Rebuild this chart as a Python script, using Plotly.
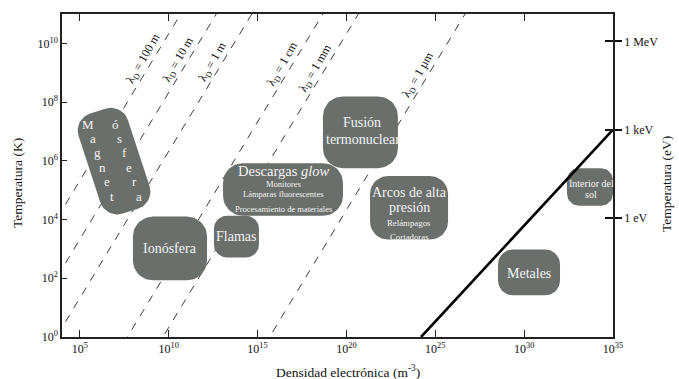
import numpy as np
import plotly.graph_objects as go

# ---- data -------------------------------------------------------------
# Plasma regions: log10 electron density (m^-3) and log10 temperature (K)
regions = ["Magnetósfera", "Ionósfera", "Flamas", "Descargas glow",
           "Fusión termonuclear", "Arcos de alta presión",
           "Interior del sol", "Metales"]
log_n_low = [5.47, 7.99, 12.55, 13.06, 18.68, 21.33, 32.41, 28.53]
log_n_high = [8.39, 12.16, 15.08, 19.81, 22.90, 25.72, 35.00, 32.02]
log_T_low = [4.20, 1.93, 2.71, 4.13, 5.75, 3.32, 4.47, 1.42]
log_T_high = [7.78, 4.10, 4.13, 5.92, 8.19, 5.48, 5.75, 2.98]

# Debye length contours
debye_lengths_m = [100, 10, 1, 1e-2, 1e-3, 1e-6]
debye_labels = ["100 m", "10 m", "1 m", "1 cm", "1 mm", "1 µm"]
debye_label_logT = [9.47, 9.44, 9.37, 9.31, 9.17, 8.93]

# Boundary of the degenerate regime
degenerate_log_n = [24.2, 35.0]
degenerate_log_T = [0.0, 7.065]

# Axis ticks
x_decades = [5, 10, 15, 20, 25, 30, 35]
y_decades = [0, 2, 4, 6, 8, 10]
ev_ticks = [1.0, 1e3, 1e6]
ev_labels = ["1 eV", "1 keV", "1 MeV"]
K_PER_EV = 11604.5

# ---- layout geometry --------------------------------------------------
W, H = 679, 379
ML, MR, MT, MB = 62, 66, 12, 42
X_RANGE = (4, 35)
Y_RANGE = (0, 11)
SX = (W - ML - MR) / (X_RANGE[1] - X_RANGE[0])   # px per decade (x)
SY = (H - MT - MB) / (Y_RANGE[1] - Y_RANGE[0])   # px per decade (y)

BOX = "#6a6f6c"
TXT = "#f4f4f4"
SERIF = "Liberation Serif, Times New Roman, serif"

# per-region corner radius (px) and tilt (deg)
radius_px = [18, 20, 13, 20, 20, 18, 12, 15]
tilt_deg = [18, 0, 0, 0, 0, 0, 0, 0]


def rounded_box(i, n=12):
    """Rounded rectangle (optionally tilted) in data coordinates."""
    cx = (log_n_low[i] + log_n_high[i]) / 2
    cy = (log_T_low[i] + log_T_high[i]) / 2
    w = (log_n_high[i] - log_n_low[i]) * SX
    h = (log_T_high[i] - log_T_low[i]) * SY
    r = radius_px[i]
    hw, hh = w / 2, h / 2
    pts = []
    for (ox, oy, a0) in [(hw - r, hh - r, 0), (-hw + r, hh - r, 90),
                         (-hw + r, -hh + r, 180), (hw - r, -hh + r, 270)]:
        for t in np.radians(np.linspace(a0, a0 + 90, n)):
            pts.append((ox + r * np.cos(t), oy + r * np.sin(t)))
    pts.append(pts[0])
    p = np.array(pts)
    a = np.radians(tilt_deg[i])
    px = p[:, 0] * np.cos(a) - p[:, 1] * np.sin(a)
    py = p[:, 0] * np.sin(a) + p[:, 1] * np.cos(a)
    return (10.0 ** (cx + px / SX)).tolist(), (10.0 ** (cy + py / SY)).tolist()


fig = go.Figure()

# Debye length lines: lambda_D = sqrt(eps0 k T / (n e^2))
EPS0, KB, QE = 8.8541878e-12, 1.380649e-23, 1.602176634e-19
lam0 = np.sqrt(EPS0 * KB / QE ** 2)
n_span = np.array([1.0, 1e40])
for lam in debye_lengths_m:
    fig.add_trace(go.Scatter(
        x=n_span.tolist(), y=(n_span * (lam / lam0) ** 2).tolist(), mode="lines",
        line=dict(color="#3c3c3c", width=1, dash="8px,8px"),
        hoverinfo="skip", showlegend=False))

# Plasma regions
for i in range(len(regions)):
    bx, by = rounded_box(i)
    fig.add_trace(go.Scatter(
        x=bx, y=by, mode="lines", fill="toself", fillcolor=BOX,
        line=dict(width=0, color=BOX), hoverinfo="skip", showlegend=False))

# Degenerate boundary
fig.add_trace(go.Scatter(
    x=[10.0 ** v for v in degenerate_log_n], y=[10.0 ** v for v in degenerate_log_T],
    mode="lines", line=dict(color="black", width=2.6),
    hoverinfo="skip", showlegend=False))

# placeholder traces so the right-hand axes get drawn
fig.add_trace(go.Scatter(x=[None], y=[None], yaxis="y2", showlegend=False))
fig.add_trace(go.Scatter(x=[None], y=[None], yaxis="y3", showlegend=False))

annotations = []


def box_text(i, text, size, dx=0, dy=0):
    cx = (log_n_low[i] + log_n_high[i]) / 2
    cy = (log_T_low[i] + log_T_high[i]) / 2
    annotations.append(dict(
        x=cx, y=cy, xref="x", yref="y", text=text,
        showarrow=False, xshift=dx, yshift=dy,
        xanchor="center", yanchor="middle",
        font=dict(family=SERIF, size=size, color=TXT)))


# Magnetósfera: letters in two tilted columns
for word, x0 in [("Magnet", -26), ("ósfera", 1)]:
    for k, ch in enumerate(word):
        box_text(0, ch, 13, dx=x0 + k * 4.8, dy=37 - k * 14.4)

box_text(1, "Ionósfera", 14)
box_text(2, "Flamas", 14)
box_text(3, "Descargas <i>glow</i>", 14.5, dy=18.5)
box_text(3, "Monitores", 8.5, dy=5.5)
box_text(3, "Lámparas fluorescentes", 8.5, dy=-4.5)
box_text(3, "Procesamiento de materiales", 8.5, dy=-19.5)
box_text(4, "Fusión", 14, dx=2, dy=10)
box_text(4, "termonuclear", 14, dx=3, dy=-7)
box_text(5, "Arcos de alta", 14, dy=15)
box_text(5, "presión", 14, dy=0)
box_text(5, "Relámpagos", 8.8, dy=-15)
box_text(5, "Cortadoras", 8.8, dy=-29)
box_text(6, "Interior del", 10, dx=1.5, dy=3.3)
box_text(6, "sol", 10, dx=1.5, dy=-7.3)
box_text(7, "Metales", 14, dy=-1)

# Debye length labels along their lines
for lam, lab, lt in zip(debye_lengths_m, debye_labels, debye_label_logT):
    ln = lt - 2 * np.log10(lam / lam0)
    annotations.append(dict(
        x=float(ln), y=lt, xref="x", yref="y", showarrow=False,
        text=f"λ<sub>D</sub> = {lab}", textangle=-60, xshift=-10,
        xanchor="center", yanchor="middle",
        font=dict(family=SERIF, size=12, color="#111")))

# Axis titles
title_font = dict(family=SERIF, size=13.5, color="#111")
annotations += [
    dict(x=(348 - ML) / (W - ML - MR), y=-(372 - (H - MB)) / (H - MT - MB),
         xref="paper", yref="paper", showarrow=False,
         xanchor="center", yanchor="middle",
         text="Densidad electrónica (m<sup>-3</sup>)", font=title_font),
    dict(x=(18 - ML) / (W - ML - MR), y=((H - MB) - 182) / (H - MT - MB),
         xref="paper", yref="paper", showarrow=False, textangle=-90,
         xanchor="center", yanchor="middle",
         text="Temperatura (K)", font=title_font),
    dict(x=(667 - ML) / (W - ML - MR), y=((H - MB) - 183) / (H - MT - MB),
         xref="paper", yref="paper", showarrow=False, textangle=-90,
         xanchor="center", yanchor="middle",
         text="Temperatura (eV)", font=title_font),
]

tick_font = dict(family=SERIF, size=12, color="#111")
ev_k = [v * K_PER_EV for v in ev_ticks]

fig.update_layout(
    width=W, height=H, margin=dict(l=ML, r=MR, t=MT, b=MB),
    paper_bgcolor="white", plot_bgcolor="white", hovermode=False,
    showlegend=False, annotations=annotations,
    xaxis=dict(type="log", range=list(X_RANGE),
               tickvals=[10.0 ** d for d in x_decades],
               ticktext=[f"10<sup>{d}</sup>" for d in x_decades],
               ticks="inside", ticklen=7, tickwidth=1, tickcolor="#222",
               showline=True, linecolor="#222", linewidth=1.5, mirror="ticks",
               showgrid=False, zeroline=False, tickfont=tick_font),
    yaxis=dict(type="log", range=list(Y_RANGE),
               tickvals=[10.0 ** d for d in y_decades],
               ticktext=[f"10<sup>{d}</sup>" for d in y_decades],
               ticks="inside", ticklen=5, tickwidth=1, tickcolor="#222",
               showline=True, linecolor="#222", linewidth=1.5,
               showgrid=False, zeroline=False, tickfont=tick_font),
    yaxis2=dict(type="log", range=list(Y_RANGE), overlaying="y", side="right",
                anchor="x", tickvals=ev_k, ticktext=ev_labels,
                ticks="outside", ticklen=7, tickwidth=2, tickcolor="#111",
                showline=True, linecolor="#222", linewidth=1.5,
                showgrid=False, zeroline=False, tickfont=tick_font),
    yaxis3=dict(type="log", range=list(Y_RANGE), overlaying="y", side="right",
                anchor="x", tickvals=ev_k, showticklabels=False,
                ticks="inside", ticklen=8, tickwidth=2, tickcolor="#111",
                showline=False, showgrid=False, zeroline=False),
)

fig.write_html("out.html")
